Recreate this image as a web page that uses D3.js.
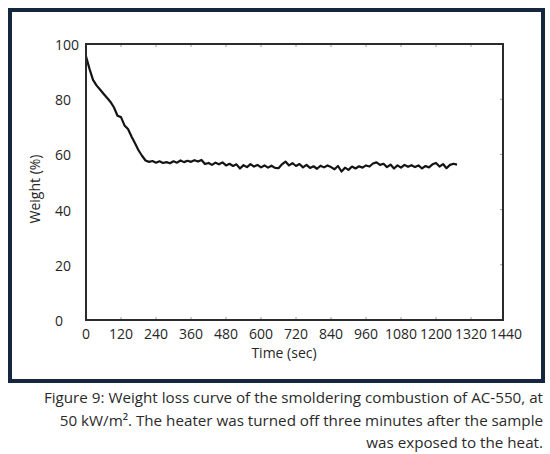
<!DOCTYPE html>
<html>
<head>
<meta charset="utf-8">
<script src="https://cdn.jsdelivr.net/npm/d3@7"></script>
<style>
    body { margin: 0; background: #fff; }
    svg { display: block; }
</style>
</head>
<body>
<div class="fig"></div>
<script>
/*-------------------------------------------------------*/
/*------------------------ Data -------------------------*/
/*-------------------------------------------------------*/
const timeSec = [
    0, 12, 24, 36, 48, 60, 72, 84, 96, 108, 120, 132, 144, 156, 168, 180, 192, 204, 216,
    228, 240, 252, 264, 276, 288, 300, 312, 324, 336, 348, 360, 372, 384, 396, 408, 420,
    432, 444, 456, 468, 480, 492, 504, 516, 528, 540, 552, 564, 576, 588, 600, 612, 624,
    636, 648, 660, 672, 684, 696, 708, 720, 732, 744, 756, 768, 780, 792, 804, 816, 828,
    840, 852, 864, 876, 888, 900, 912, 924, 936, 948, 960, 972, 984, 996, 1008, 1020, 1032,
    1044, 1056, 1068, 1080, 1092, 1104, 1116, 1128, 1140, 1152, 1164, 1176, 1188, 1200,
    1212, 1224, 1236, 1248, 1260, 1272
];
const weightPct = [
    95.5, 91.0, 87.0, 85.0, 83.5, 82.0, 80.5, 79.0, 77.0, 74.0, 73.5, 70.5, 69.2, 66.5, 64.0, 61.5, 59.5, 57.8, 57.3,
    57.6, 57.0, 57.5, 56.9, 57.2, 56.8, 57.5, 57.0, 57.8, 57.2, 57.7, 57.3, 57.9, 57.4, 58.0, 56.5, 56.9,
    56.2, 57.0, 56.4, 57.1, 56.0, 56.6, 55.8, 56.4, 54.9, 56.1, 55.4, 56.5, 55.6, 56.2, 55.3, 56.0, 55.2,
    55.9, 55.1, 55.0, 56.4, 57.4, 56.0, 56.8, 55.8, 56.5, 55.3, 56.2, 55.1, 55.7, 54.8, 55.9, 55.3, 56.0,
    55.4, 54.6, 55.8, 53.8, 55.2, 54.4, 55.6, 54.9, 55.7, 55.2, 56.0, 55.6, 56.7, 57.1, 56.2, 56.6, 55.4,
    56.3, 54.9, 56.0, 55.2, 56.2, 55.5, 56.1, 55.4, 56.0, 54.9, 55.8, 55.3, 56.4, 56.9,
    55.6, 56.5, 55.0, 56.2, 56.6, 56.3
];
const xTicks = [0, 120, 240, 360, 480, 600, 720, 840, 960, 1080, 1200, 1320, 1440];
const yTicks = [0, 20, 40, 60, 80, 100];
const xTitle = "Time (sec)";
const yTitle = "Weight (%)";
const captionLines = [
    "Figure 9: Weight loss curve of the smoldering combustion of AC-550, at",
    "50 kW/m\u00B2. The heater was turned off three minutes after the sample",
    "was exposed to the heat."
];

/*-------------------------------------------------------*/
/*------------------- Window setting --------------------*/
/*-------------------------------------------------------*/
const svgWidth = 550;
const svgHeight = 454;
const plot = { left: 86, top: 44, right: 503, bottom: 320 };
const font = "'Open Sans', 'Noto Sans', sans-serif";

const svg = d3.select(".fig").append("svg")
    .attr("width", svgWidth)
    .attr("height", svgHeight);

// dark outer frame of the figure box
svg.append("rect")
    .attr("x", 10).attr("y", 10)
    .attr("width", 533).attr("height", 371)
    .attr("fill", "none")
    .attr("stroke", "#15263f")
    .attr("stroke-width", 4);

/*-------------------------------------------------------*/
/*----------------------- Scales ------------------------*/
/*-------------------------------------------------------*/
const x = d3.scaleLinear()
    .domain([0, 1440])
    .range([plot.left, plot.left + 420]);

const y = d3.scaleLinear()
    .domain([0, 100])
    .range([plot.bottom, plot.top]);

/*-------------------------------------------------------*/
/*------------------------ Axes -------------------------*/
/*-------------------------------------------------------*/
// faint inner ticks on the frame
const innerX = xTicks.filter(d => d > 0 && x(d) < plot.right - 2);
const tickG = svg.append("g").attr("stroke", "#9a9a9a").attr("stroke-width", 1);
tickG.selectAll("line.top")
    .data(innerX)
    .join("line")
    .attr("class", "top")
    .attr("x1", d => x(d)).attr("x2", d => x(d))
    .attr("y1", plot.top).attr("y2", plot.top + 3);
tickG.selectAll("line.bot")
    .data(innerX)
    .join("line")
    .attr("class", "bot")
    .attr("x1", d => x(d)).attr("x2", d => x(d))
    .attr("y1", plot.bottom).attr("y2", plot.bottom - 3);
tickG.selectAll("line.right")
    .data(yTicks.filter(d => d > 0 && d < 100))
    .join("line")
    .attr("class", "right")
    .attr("x1", plot.right).attr("x2", plot.right - 3)
    .attr("y1", d => y(d)).attr("y2", d => y(d));

// x tick labels
svg.append("g")
    .selectAll("text")
    .data(xTicks)
    .join("text")
    .attr("x", d => x(d))
    .attr("y", 339)
    .attr("text-anchor", "middle")
    .attr("font-family", font)
    .attr("font-size", 14)
    .attr("fill", "#262626")
    .text(d => d);

// y tick labels
svg.append("g")
    .selectAll("text")
    .data(yTicks)
    .join("text")
    .attr("x", 55)
    .attr("y", d => y(d) + 6)
    .attr("text-anchor", "start")
    .attr("font-family", font)
    .attr("font-size", 14)
    .attr("fill", "#262626")
    .text(d => d);

svg.append("text")
    .attr("x", 284)
    .attr("y", 358)
    .attr("text-anchor", "middle")
    .attr("font-family", font)
    .attr("font-size", 14)
    .attr("fill", "#262626")
    .text(xTitle);

svg.append("text")
    .attr("transform", "translate(40,189) rotate(-90)")
    .attr("text-anchor", "middle")
    .attr("font-family", font)
    .attr("font-size", 14)
    .attr("fill", "#262626")
    .text(yTitle);

/*-------------------------------------------------------*/
/*----------------------- Curve -------------------------*/
/*-------------------------------------------------------*/
const series = timeSec.map((t, i) => ({ t: t, w: weightPct[i] }));

const line = d3.line()
    .x(d => x(d.t))
    .y(d => y(d.w));

svg.append("path")
    .datum(series)
    .attr("d", line)
    .attr("fill", "none")
    .attr("stroke", "#141414")
    .attr("stroke-width", 2.2)
    .attr("stroke-linejoin", "round");

// plot frame
svg.append("rect")
    .attr("x", plot.left).attr("y", plot.top)
    .attr("width", plot.right - plot.left)
    .attr("height", plot.bottom - plot.top)
    .attr("fill", "none")
    .attr("stroke", "#2b2b2b")
    .attr("stroke-width", 2);

/*-------------------------------------------------------*/
/*---------------------- Caption ------------------------*/
/*-------------------------------------------------------*/
svg.append("g")
    .selectAll("text")
    .data(captionLines)
    .join("text")
    .attr("x", 543)
    .attr("y", (d, i) => 403 + i * 22.5)
    .attr("text-anchor", "end")
    .attr("font-family", font)
    .attr("font-size", 15.2)
    .attr("fill", "#2a2a2a")
    .text(d => d);
</script>
</body>
</html>
